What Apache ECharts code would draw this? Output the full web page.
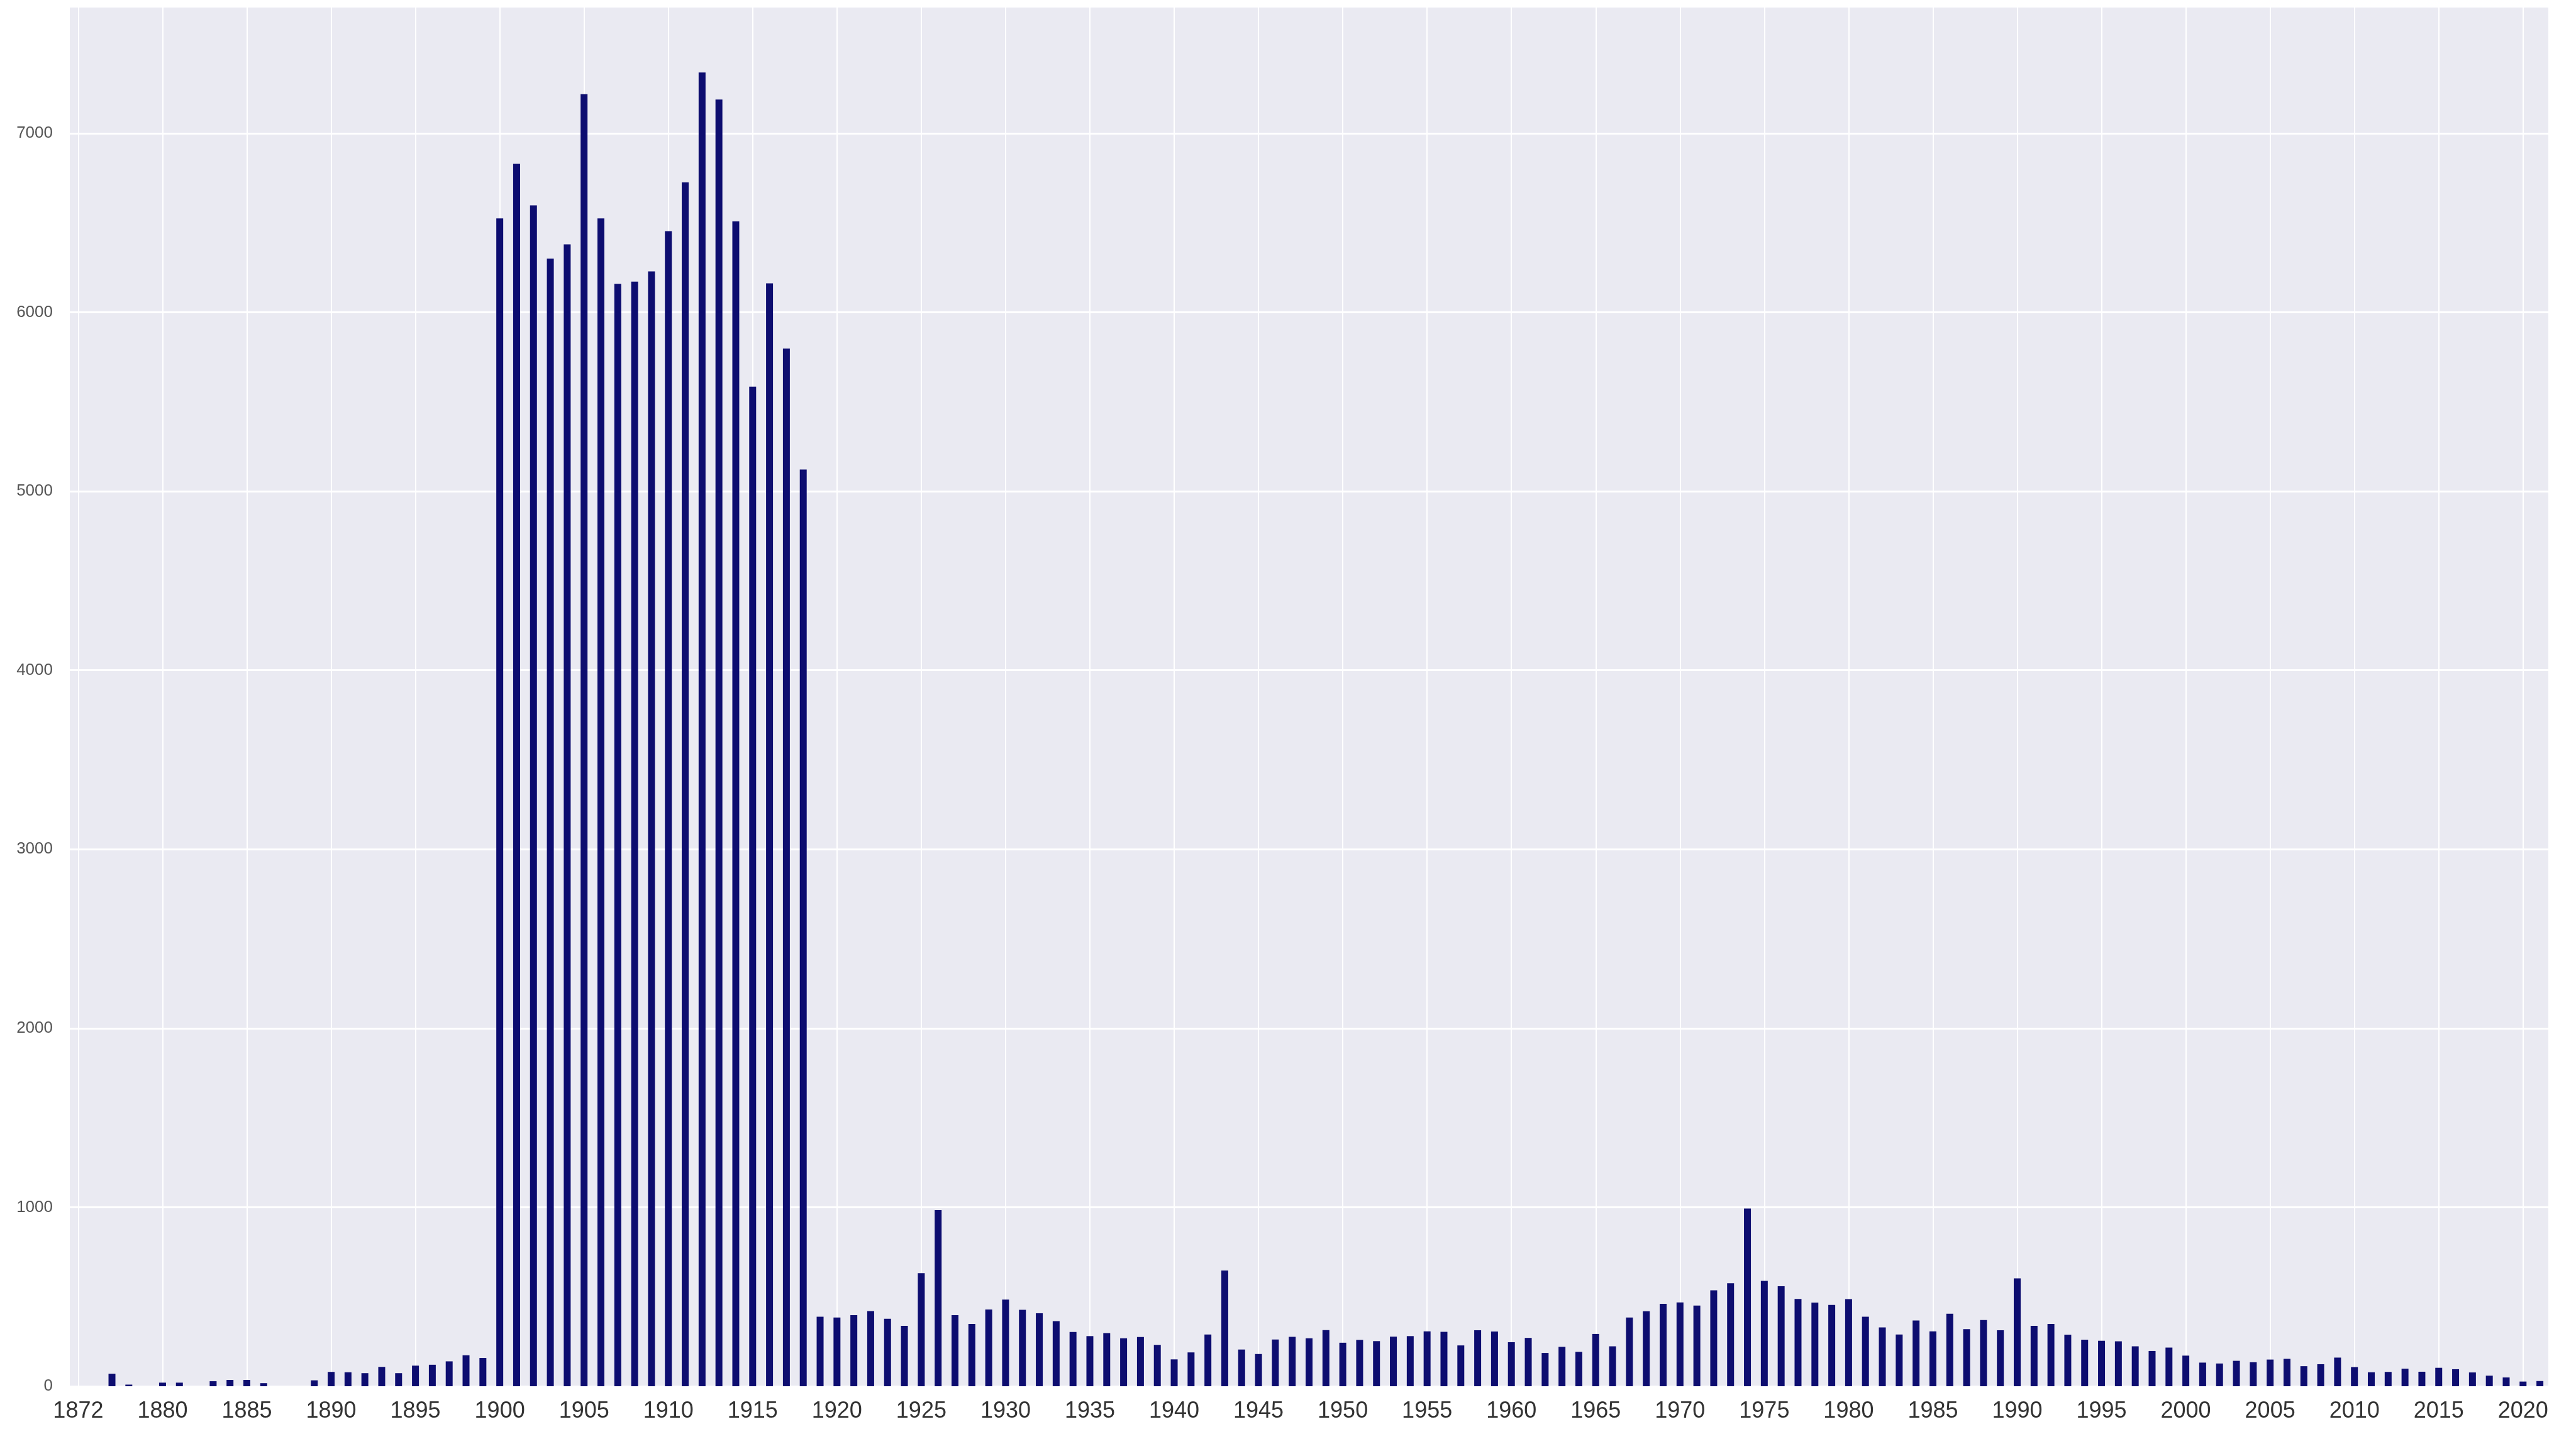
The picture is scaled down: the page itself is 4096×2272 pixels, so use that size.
<!DOCTYPE html>
<html>
<head>
<meta charset="utf-8">
<script src="https://cdn.jsdelivr.net/npm/echarts@6/dist/echarts.min.js"></script>
<style>
    html, body { margin: 0; padding: 0; background: #fff; }
    #chart { width: 4096px; height: 2272px; }
</style>
</head>
<body>
<div id="chart"></div>
<script>
// 年份（1873-1875 缺失）
const years = [
    "1872",
    "1876", "1877", "1878", "1879",
    "1880", "1881", "1882", "1883", "1884", "1885", "1886", "1887", "1888", "1889",
    "1890", "1891", "1892", "1893", "1894", "1895", "1896", "1897", "1898", "1899",
    "1900", "1901", "1902", "1903", "1904", "1905", "1906", "1907", "1908", "1909",
    "1910", "1911", "1912", "1913", "1914", "1915", "1916", "1917", "1918", "1919",
    "1920", "1921", "1922", "1923", "1924", "1925", "1926", "1927", "1928", "1929",
    "1930", "1931", "1932", "1933", "1934", "1935", "1936", "1937", "1938", "1939",
    "1940", "1941", "1942", "1943", "1944", "1945", "1946", "1947", "1948", "1949",
    "1950", "1951", "1952", "1953", "1954", "1955", "1956", "1957", "1958", "1959",
    "1960", "1961", "1962", "1963", "1964", "1965", "1966", "1967", "1968", "1969",
    "1970", "1971", "1972", "1973", "1974", "1975", "1976", "1977", "1978", "1979",
    "1980", "1981", "1982", "1983", "1984", "1985", "1986", "1987", "1988", "1989",
    "1990", "1991", "1992", "1993", "1994", "1995", "1996", "1997", "1998", "1999",
    "2000", "2001", "2002", "2003", "2004", "2005", "2006", "2007", "2008", "2009",
    "2010", "2011", "2012", "2013", "2014", "2015", "2016", "2017", "2018", "2019",
    "2020", "2021"
];

// 每年的数量，按上面的年份顺序
const counts = [
    0,
    0, 70, 9, 0,
    20, 20, 0, 28, 35, 35, 17, 0, 0, 33,
    80, 78, 73, 108, 73, 115, 120, 139, 173, 158,
    6525, 6830, 6598, 6300, 6380, 7219, 6525, 6159, 6172, 6229,
    6454, 6726, 7340, 7189, 6508, 5585, 6162, 5797, 5122, 388,
    384, 397, 420, 377, 337, 632, 984, 397, 348, 429,
    484, 427, 408, 364, 303, 280, 297, 268, 275, 231,
    150, 189, 289, 647, 205, 180, 261, 276, 268, 314,
    243, 259, 252, 277, 280, 307, 304, 228, 313, 306,
    246, 270, 186, 220, 192, 292, 223, 384, 419, 460,
    468, 451, 536, 575, 993, 589, 559, 488, 467, 454,
    487, 388, 329, 289, 367, 307, 405, 319, 370, 313,
    603, 337, 348, 288, 260, 254, 251, 223, 197, 216,
    171, 132, 127, 142, 134, 149, 153, 112, 123, 160,
    107, 78, 80, 98, 81, 103, 95, 77, 59, 49,
    26, 29
];

// y 轴刻度
const yTicks = [0, 1000, 2000, 3000, 4000, 5000, 6000, 7000];
const yMax = 7710;

const chart = echarts.init(document.getElementById("chart"), null, { renderer: "canvas" });

const option = {
    animation: false,
    backgroundColor: "#ffffff",
    grid: {
        left: 111,
        right: 44,
        top: 10,
        bottom: 68,
        show: true,
        backgroundColor: "#EAEAF2",
        borderWidth: 0,
    },
    xAxis: {
        type: "category",
        data: years,
        boundaryGap: true,
        axisLine: { show: false },
        axisTick: { show: false },
        axisLabel: {
            interval: 4,
            margin: 22,
            fontFamily: "Liberation Sans",
            fontSize: 36,
            color: "#333333",
        },
        splitLine: {
            show: true,
            interval: 4,
            alignWithLabel: true,
            lineStyle: { color: "#ffffff", width: 2 },
        },
    },
    yAxis: {
        type: "value",
        min: yTicks[0],
        max: yMax,
        interval: 1000,
        axisLine: { show: false },
        axisTick: { show: false },
        axisLabel: {
            margin: 27,
            fontFamily: "Liberation Sans",
            fontSize: 26,
            color: "#555555",
            showMaxLabel: false,
            formatter: value => String(value),
        },
        splitLine: {
            show: true,
            lineStyle: { color: "#ffffff", width: 3 },
        },
    },
    series: [
        {
            type: "bar",
            data: counts,
            barWidth: 11,
            itemStyle: {
                color: "#0d0d70",
                borderWidth: 0,
            },
        },
    ],
};

chart.setOption(option);
</script>
</body>
</html>
